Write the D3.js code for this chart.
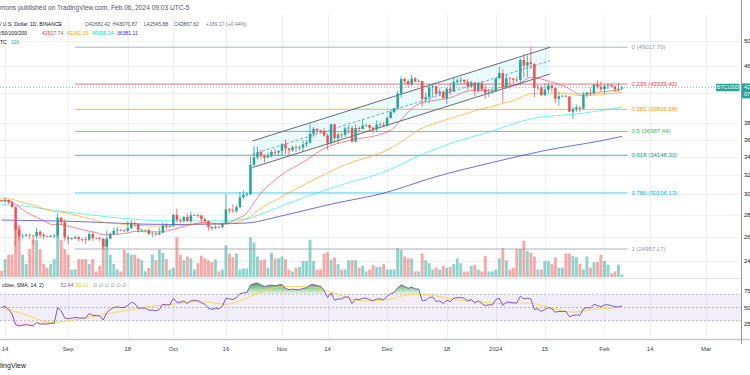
<!DOCTYPE html>
<html>
<head>
<meta charset="utf-8">
<title>BTCUSD 1D</title>
<script src="https://cdn.jsdelivr.net/npm/d3@7"></script>
<style>
  body { margin: 0; background: #ffffff; }
  svg { display: block; font-family: "Liberation Sans", Arial, "DejaVu Sans", sans-serif; }
</style>
</head>
<body>
<svg id="chart" width="750" height="375"></svg>
<script>
/* DATA */
const firstDay = "2023-08-13";

// daily candles, [open, high, low, close]
const ohlc = [
  // Aug
  [29400,29450,29250,29280],[29280,29670,29080,29410],[29410,29450,29000,29170],[29170,29230,28700,28700],
  [28700,28780,25166,26620],[26620,26830,25630,26050],[26050,26260,25800,26100],[26100,26290,25970,26190],
  [26190,26260,25810,26120],[26120,26140,25350,26050],[26050,26800,25800,26430],[26430,26550,25860,26160],
  [26160,26310,25780,26050],[26050,26100,25980,26010],[26010,26170,25960,26090],[26090,26220,25880,26100],
  [26100,28140,25920,27720],[27720,27760,27020,27300],[27300,27570,25650,25940],
  // Sep
  [25940,26130,25330,25800],[25800,25970,25730,25870],[25870,26120,25800,25970],[25970,26090,25600,25810],
  [25810,25860,25570,25780],[25780,26020,25380,25750],[25750,26430,25630,26240],[26240,26440,25650,25900],
  [25900,25940,25800,25890],[25890,26000,25600,25830],[25830,25880,24960,25160],[25160,26540,25130,25840],
  [25840,26390,25770,26230],[26230,26810,26130,26530],[26530,26890,26220,26610],[26610,26670,26470,26570],
  [26570,26620,26400,26530],[26530,27410,26380,26760],[26760,27490,26670,27210],[27210,27380,26850,27130],
  [27130,27160,26370,26570],[26570,26740,26480,26580],[26580,26640,26520,26580],[26580,26740,26130,26250],
  [26250,26430,25990,26300],[26300,26390,26080,26210],[26210,26820,26110,26350],[26350,27300,26340,27020],
  [27020,27230,26670,26910],[26910,27090,26890,26960],
  // Oct
  [26960,28060,26940,27980],[27980,28580,27320,27500],[27500,27670,27160,27430],[27430,27830,27220,27780],
  [27780,28120,27350,27410],[27410,28290,27180,27930],[27930,28020,27860,27950],[27950,28100,27690,27920],
  [27920,27990,27260,27590],[27590,27740,27300,27390],[27390,27480,26560,26870],[26870,26940,26560,26760],
  [26760,27100,26690,26860],[26860,26990,26800,26850],[26850,27290,26810,27150],[27150,30000,27110,28500],
  [28500,28610,28100,28400],[28400,28980,28140,28320],[28320,28920,28180,28710],[28710,30200,28600,29670],
  [29670,30360,29470,29910],[29910,30200,29680,29990],[29990,34000,29880,33070],[33070,35200,32880,33920],
  [33920,35130,33690,34500],[34500,34820,33750,34150],[34150,34240,33330,33900],[33900,34480,33870,34090],
  [34090,34750,33940,34530],[34530,34860,34080,34480],[34480,34720,34070,34640],
  // Nov
  [34640,35580,34110,35420],[35420,35980,34300,34940],[34940,34950,34100,34730],[34730,35260,34580,35080],
  [35080,35380,34530,35010],[35010,35290,34730,35050],[35050,35890,34520,35420],[35420,35980,35110,35620],
  [35620,37970,35530,36700],[36700,37530,36340,37310],[37310,37410,36710,37130],[37130,37230,36750,37060],
  [37060,37420,36340,36480],[36480,36770,34800,35550],[35550,37960,35360,37880],[37880,37930,35550,36160],
  [36160,36850,35510,36600],[36600,36850,36190,36570],[36570,37550,36320,37360],[37360,37750,36700,37450],
  [37450,37650,35630,35750],[35750,37860,35650,37420],[37420,37640,36890,37290],[37290,38430,37250,37720],
  [37720,37890,37600,37800],[37800,37830,37150,37450],[37450,37560,36750,37240],[37240,38380,36870,37830],
  [37830,38170,37600,37850],[37850,38150,37500,37720],
  // Dec
  [37720,38960,37600,38690],[38690,39680,38640,39460],[39460,40000,39290,39980],[39980,42420,39960,41980],
  [41980,44490,41420,44080],[44080,44300,43340,43770],[43770,44040,42820,43290],[43290,44700,43080,44170],
  [44170,44370,43580,43720],[43720,44040,43570,43790],[43790,43800,40220,41240],[41240,42100,40680,41490],
  [41490,43430,40600,42870],[42870,43420,41430,43020],[43020,43090,41660,41940],[41940,42700,41700,42260],
  [42260,42420,41250,41360],[41360,42760,40530,42660],[42660,43500,41790,42260],[42260,44280,42210,43650],
  [43650,44230,43300,43860],[43860,44400,43400,43970],[43970,43990,43300,43700],[43700,44040,42560,43010],
  [43010,43800,42730,43580],[43580,43600,41620,42510],[42510,43680,42100,43440],[43440,43800,42310,42580],
  [42580,43130,41300,42070],[42070,42600,41510,42140],[42140,42900,41970,42280],
  // Jan
  [42280,44180,42180,44180],[44180,45880,44150,44970],[44970,45500,40750,42850],[42850,44730,42630,44190],
  [44190,44340,42630,44160],[44160,44230,43400,43970],[43970,44500,43560,43930],[43930,47250,43180,46970],
  [46970,47890,44300,46110],[46110,47700,44340,46630],[46630,49018,45600,46340],[46340,46500,41500,42780],
  [42780,43260,42440,42840],[42840,43080,41720,41730],[41730,43400,41720,42510],[42510,43580,42050,43140],
  [43140,43200,42200,42780],[42780,42930,40680,41260],[41260,42200,40280,41620],[41620,41870,41500,41660],
  [41660,41880,41500,41580],[41580,41690,39430,39510],[39510,40130,38560,39850],[39850,40500,39480,40080],
  [40080,40290,39500,39930],[39930,42220,39820,41820],[41820,42200,41400,42120],[42120,42840,41620,42030],
  [42030,43310,41800,43300],[43300,43880,42680,42950],[42950,43750,42280,42580],
  // Feb
  [42580,43280,41880,43080],[43080,43490,42580,43200],[43200,43380,42880,43010],[43010,43120,42220,42580],
  [42580,43500,42260,42680],[42682.42,43070.87,42545.88,42867.62]
];

// daily volume (K BTC)
const volumes = [
  17,48,60,60,145,140,60,35,75,100,100,75,35,25,35,48,145,100,75,
  60,20,20,48,48,48,35,48,15,30,100,100,60,35,20,15,73,65,60,60,50,45,15,25,60,45,73,65,48,20,
  25,107,60,45,55,50,20,37,57,50,45,40,47,15,20,85,63,53,63,20,23,23,107,93,55,45,47,25,65,50,50,
  55,48,20,15,25,27,43,43,100,43,20,20,63,67,47,52,35,20,20,45,45,45,25,30,15,20,32,27,27,35,
  20,20,20,77,73,55,50,50,15,15,63,45,37,20,25,20,30,25,27,35,50,37,15,15,30,33,20,15,57,15,15,
  20,50,77,45,20,25,75,75,97,70,65,55,20,20,43,43,35,53,25,25,63,63,57,53,35,20,55,25,40,40,60,
  43,33,10,15,33,7
];

// RSI 14, one value per day
const rsiValues = [
  50,52,47,40,24,22,23,24,23,22,27,25,25,25,26,26,50,45,34,
  33,34,35,34,34,34,41,38,38,37,31,42,47,50,51,50,50,53,58,56,49,49,49,46,46,45,47,55,54,54,
  64,58,58,60,56,60,61,60,57,55,49,47,49,48,52,64,63,62,65,71,72,73,84,86,87,84,82,83,84,83,84,
  85,79,77,78,77,77,79,80,84,85,83,82,76,65,72,61,63,63,66,66,56,63,62,64,64,62,60,63,63,62,
  67,71,73,80,84,82,79,81,78,78,60,61,65,66,59,60,56,61,59,64,65,65,64,60,62,57,60,56,53,54,54,
  62,64,53,58,58,57,57,67,63,64,63,47,48,44,47,50,48,43,44,44,44,36,38,39,38,48,50,49,55,53,51,
  54,54,53,51,51,52.44
];

// RSI moving average, read at sample days
const rsiMa = [
  ["2023-08-13",50],["2023-08-17",44],["2023-08-21",37],["2023-08-26",28],["2023-08-28",27],
  ["2023-09-01",30],["2023-09-09",37],["2023-09-16",44],["2023-09-22",50],["2023-09-29",54],
  ["2023-10-09",59],["2023-10-16",55],["2023-10-20",60],["2023-10-25",71],["2023-10-31",81],
  ["2023-11-05",82],["2023-11-11",80],["2023-11-16",71],["2023-11-24",60],["2023-11-30",61],
  ["2023-12-08",70],["2023-12-13",69],["2023-12-20",62],["2023-12-27",59],["2024-01-03",56],
  ["2024-01-10",57],["2024-01-17",49],["2024-01-23",43],["2024-01-30",48],["2024-02-06",50.10]
];

// EMA 20 / 50 / 100 / 200, read at sample days
const ema20 = [
  ["2023-08-13",29350],["2023-08-16",29240],["2023-08-17",28990],["2023-08-20",28240],["2023-08-24",27600],
  ["2023-08-28",27060],["2023-08-29",27120],["2023-08-31",27025],["2023-09-05",26620],["2023-09-10",26280],
  ["2023-09-11",26175],["2023-09-17",26276],["2023-09-20",26465],["2023-09-27",26430],["2023-09-30",26570],
  ["2023-10-05",27000],["2023-10-10",27285],["2023-10-15",27133],["2023-10-19",27578],["2023-10-22",28170],
  ["2023-10-23",28636],["2023-10-25",29650],["2023-10-31",31747],["2023-11-08",33622],["2023-11-13",34925],
  ["2023-11-20",35868],["2023-11-30",36773],["2023-12-03",37458],["2023-12-05",38478],["2023-12-10",40555],
  ["2023-12-19",41412],["2023-12-25",42412],["2023-12-31",42452],["2024-01-02",42835],["2024-01-07",43223],
  ["2024-01-11",44304],["2024-01-17",43626],["2024-01-21",42934],["2024-01-25",41913],["2024-02-01",42250],
  ["2024-02-06",42527.74]
];
const ema50 = [
  ["2023-08-13",29550],["2023-08-16",29500],["2023-08-17",29370],["2023-08-22",28900],["2023-08-28",28290],
  ["2023-08-30",28230],["2023-09-05",27800],["2023-09-10",27390],["2023-09-11",27300],["2023-09-17",27105],
  ["2023-09-30",26920],["2023-10-10",27177],["2023-10-15",27127],["2023-10-22",27601],["2023-10-25",28380],
  ["2023-10-31",29552],["2023-11-08",31080],["2023-11-20",33234],["2023-11-30",34576],["2023-12-05",35710],
  ["2023-12-10",37165],["2023-12-19",38625],["2023-12-31",40253],["2024-01-07",41175],["2024-01-11",41963],
  ["2024-01-21",42041],["2024-01-25",41715],["2024-02-06",42162.20]
];
const ema100 = [
  ["2023-08-13",28950],["2023-08-17",28880],["2023-08-28",28416],["2023-09-10",27874],["2023-09-30",27421],
  ["2023-10-15",27415],["2023-10-22",27630],["2023-10-31",28685],["2023-11-10",30000],["2023-11-20",31165],
  ["2023-11-30",32269],["2023-12-10",34074],["2023-12-20",35650],["2023-12-31",37033],["2024-01-11",38583],
  ["2024-01-25",39270],["2024-02-06",40095.24]
];
const ema200 = [
  ["2023-08-13",27500],["2023-08-31",27396],["2023-09-30",27086],["2023-10-22",27227],["2023-10-31",27815],
  ["2023-11-15",29000],["2023-11-30",30090],["2023-12-15",31800],["2023-12-31",33338],["2024-01-15",34700],
  ["2024-01-31",35855],["2024-02-06",36381.11]
];

// fibonacci retracement
const fibRatios = ["0", "0.236", "0.382", "0.5", "0.618", "0.786", "1"];
const fibPrices = [49017.70, 43339.42, 39826.58, 36987.44, 34148.30, 30106.13, 24957.17];
const fibColors = ["#9598a1", "#f23645", "#ff9800", "#4caf50", "#089981", "#00bcd4", "#9598a1"];
const fibSpan = ["2023-09-03T00:00:00Z", "2024-02-07T14:00:00Z"];

// rising channel (upper, middle, lower)
const channelSpan = ["2023-10-23T14:00:00Z", "2024-01-16T12:00:00Z"];
const channelUpper = [35830, 49018];
const channelMid = [34270, 46870];
const channelLower = [32780, 44830];

const lastClose = 42867.62;

// axes
const timeTicks = ["2023-08-14","2023-09-01","2023-09-18","2023-10-01","2023-10-16","2023-11-01","2023-11-14",
  "2023-12-01","2023-12-18","2024-01-01","2024-01-15","2024-02-01","2024-02-14","2024-03-01"];
const timeLabels = ["14","Sep","18","Oct","16","Nov","14","Dec","18","2024","15","Feb","14","Mar"];
const priceTicks = [50000, 46000, 42000, 38000, 36000, 34000, 32000, 30000, 28000, 26000, 24000];
const rsiTicks = [75, 50, 25];

/* CONSTANTS */
const axisX = 741.5,
  paneTop = 14,
  paneBottom = 278,
  rsiBottom = 339,
  upColor = "#26a69a",
  downColor = "#ef5350";

const parseDay = d3.utcParse("%Y-%m-%d");
const day0 = parseDay(firstDay);
const candles = ohlc.map((d, i) => ({
  date: d3.utcDay.offset(day0, i),
  o: d[0], h: d[1], l: d[2], c: d[3],
  v: volumes[i],
  rsi: rsiValues[i]
}));

/* SCALES */
const xScale = d3.scaleUtc()
  .domain([day0, parseDay("2024-03-01")])
  .range([1.6, 706.1]);

// log price scale, pinned on the fib levels
const yScale = d3.scaleLog()
  .domain([24957.17, 49017.70])
  .range([249, 47.3]);

const volScale = d3.scaleLinear()
  .domain([0, 145])
  .range([277, 223]);

const rsiScale = d3.scaleLinear()
  .domain([30, 70])
  .range([320.7, 294.3]);

/* HTML ELEMENTS */
const svg = d3.select("#chart");
const defs = svg.append("defs");

defs.append("clipPath").attr("id", "mainClip")
  .append("rect").attr("x", 0).attr("y", paneTop).attr("width", axisX).attr("height", paneBottom - paneTop);
defs.append("clipPath").attr("id", "rsiClip")
  .append("rect").attr("x", 0).attr("y", paneBottom + 1).attr("width", axisX).attr("height", rsiBottom - paneBottom - 1);
defs.append("clipPath").attr("id", "obClip")
  .append("rect").attr("x", 0).attr("y", paneBottom).attr("width", axisX).attr("height", rsiScale(70) - paneBottom);
defs.append("clipPath").attr("id", "osClip")
  .append("rect").attr("x", 0).attr("y", rsiScale(30)).attr("width", axisX).attr("height", rsiBottom - rsiScale(30));

const obGrad = defs.append("linearGradient").attr("id", "obGrad")
  .attr("gradientUnits", "userSpaceOnUse").attr("x1", 0).attr("x2", 0)
  .attr("y1", rsiScale(86)).attr("y2", rsiScale(70));
obGrad.append("stop").attr("offset", 0).attr("stop-color", "#43a047").attr("stop-opacity", 0.9);
obGrad.append("stop").attr("offset", 1).attr("stop-color", "#4caf50").attr("stop-opacity", 0.08);

const osGrad = defs.append("linearGradient").attr("id", "osGrad")
  .attr("gradientUnits", "userSpaceOnUse").attr("x1", 0).attr("x2", 0)
  .attr("y1", rsiScale(30)).attr("y2", rsiScale(15));
osGrad.append("stop").attr("offset", 0).attr("stop-color", "#f23645").attr("stop-opacity", 0.05);
osGrad.append("stop").attr("offset", 1).attr("stop-color", "#f23645").attr("stop-opacity", 0.45);

// grid
const grid = svg.append("g").attr("stroke", "#eef1f6").attr("stroke-width", 1);
grid.selectAll(".vgrid").data(timeTicks).join("line")
  .attr("x1", d => Math.round(xScale(parseDay(d))) + 0.5)
  .attr("x2", d => Math.round(xScale(parseDay(d))) + 0.5)
  .attr("y1", paneTop).attr("y2", rsiBottom);
grid.selectAll(".hgrid").data(priceTicks).join("line")
  .attr("x1", 0).attr("x2", axisX)
  .attr("y1", d => Math.round(yScale(d)) + 0.5)
  .attr("y2", d => Math.round(yScale(d)) + 0.5);

/* MAIN PANE */
const main = svg.append("g").attr("clip-path", "url(#mainClip)");

// volume
main.append("g").selectAll("rect").data(candles).join("rect")
  .attr("x", d => xScale(d.date) - 1.45)
  .attr("width", 2.9)
  .attr("y", d => volScale(d.v))
  .attr("height", d => volScale(0) - volScale(d.v))
  .attr("fill", d => d.c >= d.o ? upColor : downColor)
  .attr("opacity", 0.5);

// fib levels
const fibX0 = xScale(new Date(fibSpan[0])),
  fibX1 = xScale(new Date(fibSpan[1]));
main.append("g").selectAll("line").data(fibPrices).join("line")
  .attr("x1", fibX0).attr("x2", fibX1)
  .attr("y1", d => yScale(d)).attr("y2", d => yScale(d))
  .attr("stroke", (d, i) => fibColors[i])
  .attr("stroke-width", (d, i) => i === 0 || i === 6 ? 1.6 : 1)
  .attr("opacity", (d, i) => i === 0 || i === 6 ? 0.5 : 0.7);

// channel
const chX = channelSpan.map(d => xScale(new Date(d)));
const chPoly = [
  [chX[0], yScale(channelUpper[0])], [chX[1], yScale(channelUpper[1])],
  [chX[1], yScale(channelLower[1])], [chX[0], yScale(channelLower[0])]
];
main.append("polygon")
  .attr("points", chPoly.map(p => p.join(",")).join(" "))
  .attr("fill", "#00bcd4").attr("opacity", 0.08);

// moving averages
const maLine = d3.line()
  .x(d => xScale(parseDay(d[0])))
  .y(d => yScale(d[1]))
  .curve(d3.curveMonotoneX);
const maSeries = [
  { data: ema200, color: "#3d3dd6", op: 0.75 },
  { data: ema100, color: "#00e5ff", op: 0.55 },
  { data: ema50, color: "#ff9800", op: 0.6 },
  { data: ema20, color: "#f23645", op: 0.6 }
];
main.append("g").selectAll("path").data(maSeries).join("path")
  .attr("d", d => maLine(d.data))
  .attr("fill", "none")
  .attr("stroke", d => d.color)
  .attr("stroke-width", 1)
  .attr("opacity", d => d.op);

// channel borders
[channelUpper, channelLower].forEach(p => {
  main.append("line")
    .attr("x1", chX[0]).attr("x2", chX[1])
    .attr("y1", yScale(p[0])).attr("y2", yScale(p[1]))
    .attr("stroke", "#505360").attr("stroke-width", 1).attr("opacity", 0.85);
});
main.append("line")
  .attr("x1", chX[0]).attr("x2", chX[1])
  .attr("y1", yScale(channelMid[0])).attr("y2", yScale(channelMid[1]))
  .attr("stroke", "#2962ff").attr("stroke-width", 1)
  .attr("stroke-dasharray", "3,2").attr("opacity", 0.6);

// candles
const candleG = main.append("g").selectAll("g").data(candles).join("g")
  .attr("fill", d => d.c >= d.o ? upColor : downColor)
  .attr("stroke", d => d.c >= d.o ? upColor : downColor);
candleG.append("line")
  .attr("x1", d => xScale(d.date)).attr("x2", d => xScale(d.date))
  .attr("y1", d => yScale(d.h)).attr("y2", d => yScale(d.l))
  .attr("stroke-width", 0.8);
candleG.append("rect")
  .attr("stroke", "none")
  .attr("x", d => xScale(d.date) - 1.25)
  .attr("width", 2.5)
  .attr("y", d => yScale(Math.max(d.o, d.c)))
  .attr("height", d => Math.max(0.7, Math.abs(yScale(d.o) - yScale(d.c))));

// last price line
main.append("line")
  .attr("x1", 0).attr("x2", axisX)
  .attr("y1", yScale(lastClose)).attr("y2", yScale(lastClose))
  .attr("stroke", upColor).attr("stroke-width", 0.8)
  .attr("stroke-dasharray", "1,2").attr("opacity", 0.8);

// fib labels
svg.append("g").selectAll("text").data(fibPrices).join("text")
  .attr("x", fibX1 + 4)
  .attr("y", d => yScale(d) + 2)
  .attr("font-size", 6)
  .attr("fill", (d, i) => fibColors[i])
  .text((d, i) => `${fibRatios[i]} (${d.toFixed(2)})`);

// BTCUSD tag
const tagY = yScale(lastClose);
svg.append("rect").attr("x", 716).attr("y", tagY - 3.6).attr("width", 23.5).attr("height", 7.4)
  .attr("fill", upColor).attr("rx", 1);
svg.append("text").attr("x", 727.7).attr("y", tagY + 2).attr("text-anchor", "middle")
  .attr("font-size", 5.4).attr("fill", "#fff").text("BTCUSD");

/* RSI PANE */
const rsiG = svg.append("g").attr("clip-path", "url(#rsiClip)");
rsiG.append("rect")
  .attr("x", 0).attr("width", axisX)
  .attr("y", rsiScale(70)).attr("height", rsiScale(30) - rsiScale(70))
  .attr("fill", "#7e57c2").attr("opacity", 0.1);
rsiG.selectAll(".band").data([70, 50, 30]).join("line")
  .attr("x1", 0).attr("x2", axisX)
  .attr("y1", d => rsiScale(d)).attr("y2", d => rsiScale(d))
  .attr("stroke", "#787b86").attr("stroke-width", 0.8)
  .attr("stroke-dasharray", "2,2").attr("opacity", 0.6);

rsiG.append("path").datum(candles)
  .attr("clip-path", "url(#obClip)")
  .attr("fill", "url(#obGrad)")
  .attr("d", d3.area().x(d => xScale(d.date)).y0(rsiScale(70)).y1(d => rsiScale(d.rsi)));
rsiG.append("path").datum(candles)
  .attr("clip-path", "url(#osClip)")
  .attr("fill", "url(#osGrad)")
  .attr("d", d3.area().x(d => xScale(d.date)).y0(rsiScale(30)).y1(d => rsiScale(d.rsi)));

rsiG.append("path").datum(rsiMa)
  .attr("fill", "none").attr("stroke", "#f5d63d").attr("stroke-width", 1).attr("opacity", 0.85)
  .attr("d", d3.line().x(d => xScale(parseDay(d[0]))).y(d => rsiScale(d[1])).curve(d3.curveMonotoneX));
rsiG.append("path").datum(candles)
  .attr("fill", "none").attr("stroke", "#7e57c2").attr("stroke-width", 1)
  .attr("d", d3.line().x(d => xScale(d.date)).y(d => rsiScale(d.rsi)));

// pane borders
svg.append("line").attr("x1", 0).attr("x2", axisX).attr("y1", paneBottom + 0.5).attr("y2", paneBottom + 0.5)
  .attr("stroke", "#e0e3eb");
svg.append("line").attr("x1", 0).attr("x2", 750).attr("y1", rsiBottom + 0.5).attr("y2", rsiBottom + 0.5)
  .attr("stroke", "#c5c8d0").attr("stroke-width", 1.5);
svg.append("line").attr("x1", axisX).attr("x2", axisX).attr("y1", 0).attr("y2", 344)
  .attr("stroke", "#9598a1");

/* AXES */
// price labels, cut by the right edge as in the screenshot
svg.append("g").selectAll("text").data(priceTicks.filter(d => Math.abs(yScale(d) - tagY) > 9)).join("text")
  .attr("x", 744).attr("y", d => yScale(d) + 2)
  .attr("font-size", 6).attr("fill", "#131722")
  .text(d => d3.format(".2f")(d));
svg.append("rect").attr("x", 742).attr("y", tagY - 4).attr("width", 8).attr("height", 15)
  .attr("fill", upColor);
svg.append("text").attr("x", 744).attr("y", tagY + 1.8).attr("font-size", 5.6).attr("fill", "#fff")
  .text(d3.format(".2f")(lastClose));
svg.append("text").attr("x", 744).attr("y", tagY + 8.6).attr("font-size", 5.6).attr("fill", "#fff")
  .text("07:56:12");

svg.append("g").selectAll("text").data(rsiTicks).join("text")
  .attr("x", 744).attr("y", d => rsiScale(d) + 2)
  .attr("font-size", 6).attr("fill", "#131722")
  .text(d => d.toFixed(2));

// time labels
svg.append("g").selectAll("text").data(timeTicks).join("text")
  .attr("x", d => xScale(parseDay(d)))
  .attr("y", 350.5)
  .attr("text-anchor", "middle")
  .attr("font-size", 6)
  .attr("fill", "#3b3e48")
  .text((d, i) => timeLabels[i]);

/* LEGENDS */
svg.append("text").attr("x", 0).attr("y", 9.6).attr("font-size", 6.6).attr("fill", "#50535e")
  .text("mons published on TradingView.com, Feb 06, 2024 09:03 UTC-5");

const legend = [
  { x: 0, y: 25.5, t: "/ U.S. Dollar, 1D, BINANCE", c: "#131722" },
  { x: 85, y: 25.5, t: "O42682.42", c: "#50535e" },
  { x: 112.5, y: 25.5, t: "H43070.87", c: "#50535e" },
  { x: 144, y: 25.5, t: "L42545.88", c: "#50535e" },
  { x: 174, y: 25.5, t: "C42867.62", c: "#50535e" },
  { x: 206, y: 25.5, t: "+189.17 (+0.44%)", c: "#787b86" },
  { x: 0, y: 34.8, t: "/50/100/200", c: "#131722" },
  { x: 42, y: 34.8, t: "42527.74", c: "#f23645" },
  { x: 67, y: 34.8, t: "42162.20", c: "#ff9800" },
  { x: 92, y: 34.8, t: "40095.24", c: "#00d4ee" },
  { x: 117, y: 34.8, t: "36381.11", c: "#2f2fd0" },
  { x: 0, y: 44.4, t: "TC", c: "#131722" },
  { x: 11, y: 44.4, t: "110", c: "#26a69a" },
  { x: 2, y: 287, t: "close, SMA, 14, 2)", c: "#131722" },
  { x: 60.5, y: 287, t: "52.44", c: "#7e57c2" },
  { x: 75.5, y: 287, t: "50.10", c: "#e8c01c" },
  { x: 93, y: 287, t: "\u2205  \u2205  \u2205  \u2205  \u2205  \u2205", c: "#787b86" }
];
svg.append("g").selectAll("text").data(legend).join("text")
  .attr("x", d => d.x).attr("y", d => d.y)
  .attr("font-size", 5.1)
  .attr("fill", d => d.c)
  .text(d => d.t);

svg.append("text").attr("x", 0).attr("y", 368).attr("font-size", 7).attr("fill", "#131722")
  .text("lingView");
</script>
</body>
</html>
